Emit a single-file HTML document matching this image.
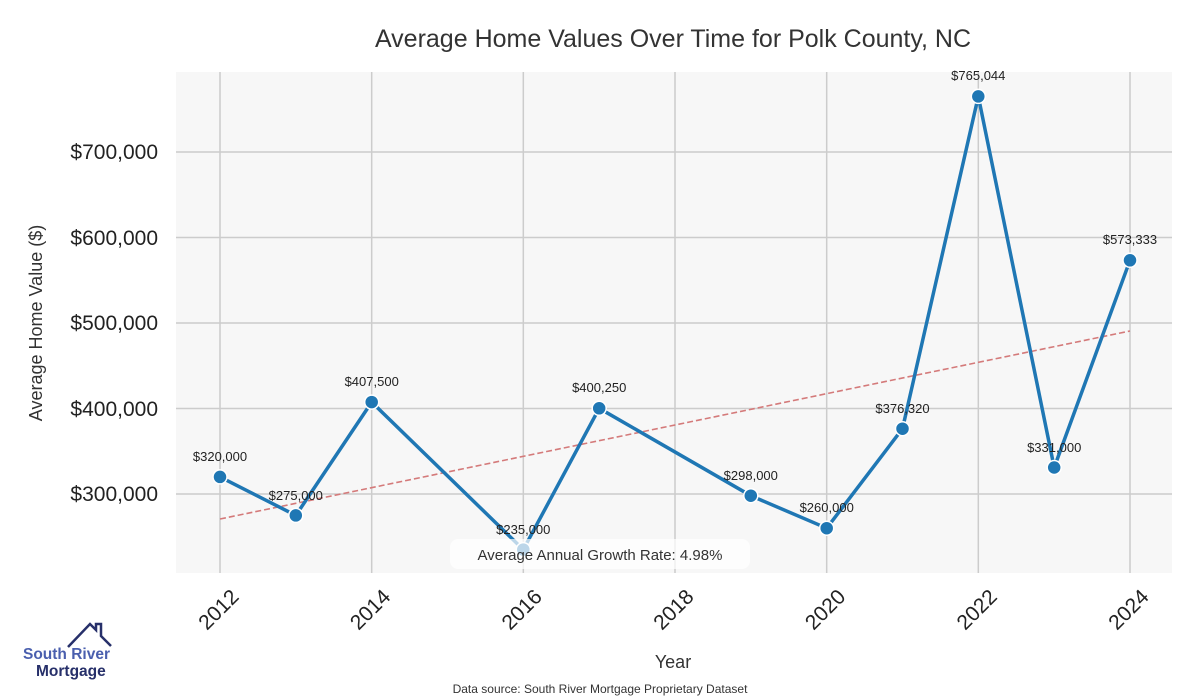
<!DOCTYPE html>
<html><head><meta charset="utf-8"><style>body{margin:0;background:#fff}svg{display:block}</style></head><body>
<svg width="1200" height="700" xmlns="http://www.w3.org/2000/svg" font-family="Liberation Sans, sans-serif">
<rect x="176" y="72" width="996" height="501" fill="#f7f7f7"/>
<g stroke="#cccccc" stroke-width="1.5">
<line x1="176" x2="1172" y1="494" y2="494"/><line x1="176" x2="1172" y1="408.5" y2="408.5"/><line x1="176" x2="1172" y1="323" y2="323"/><line x1="176" x2="1172" y1="237.5" y2="237.5"/><line x1="176" x2="1172" y1="152" y2="152"/>
<line y1="72" y2="573" x1="220" x2="220"/><line y1="72" y2="573" x1="371.7" x2="371.7"/><line y1="72" y2="573" x1="523.3" x2="523.3"/><line y1="72" y2="573" x1="675" x2="675"/><line y1="72" y2="573" x1="826.7" x2="826.7"/><line y1="72" y2="573" x1="978.3" x2="978.3"/><line y1="72" y2="573" x1="1130" x2="1130"/>
</g>
<line x1="220" y1="519" x2="1130" y2="331" stroke="#d47a7a" stroke-width="1.6" stroke-dasharray="6,3"/>
<polyline fill="none" stroke="#1f77b4" stroke-width="3.5" stroke-linejoin="round" points="220,476.9 295.8,515.4 371.7,402.1 523.3,549.6 599.2,408.3 750.8,495.7 826.7,528.2 902.5,428.7 978.3,96.4 1054.2,467.5 1130,260.3"/>
<g fill="#1f77b4" stroke="#fff" stroke-width="1.5">
<circle cx="220" cy="476.9" r="7"/><circle cx="295.8" cy="515.4" r="7"/><circle cx="371.7" cy="402.1" r="7"/><circle cx="523.3" cy="549.6" r="7"/><circle cx="599.2" cy="408.3" r="7"/><circle cx="750.8" cy="495.7" r="7"/><circle cx="826.7" cy="528.2" r="7"/><circle cx="902.5" cy="428.7" r="7"/><circle cx="978.3" cy="96.4" r="7"/><circle cx="1054.2" cy="467.5" r="7"/><circle cx="1130" cy="260.3" r="7"/>
</g>
<g font-size="13" fill="#222" text-anchor="middle">
<text x="220" y="461">$320,000</text><text x="295.8" y="500">$275,000</text><text x="371.7" y="386">$407,500</text><text x="523.3" y="534">$235,000</text><text x="599.2" y="392">$400,250</text><text x="750.8" y="480">$298,000</text><text x="826.7" y="512">$260,000</text><text x="902.5" y="413">$376,320</text><text x="978.3" y="80">$765,044</text><text x="1054.2" y="452">$331,000</text><text x="1130" y="244">$573,333</text>
</g>
<rect x="450" y="539" width="300" height="30" rx="8" fill="#fff" opacity="0.7"/>
<text x="600" y="560" font-size="15" fill="#333" text-anchor="middle">Average Annual Growth Rate: 4.98%</text>
<text x="673" y="47" font-size="25" fill="#333" text-anchor="middle">Average Home Values Over Time for Polk County, NC</text>
<g font-size="21" fill="#222" text-anchor="end">
<text x="158" y="501">$300,000</text><text x="158" y="416">$400,000</text><text x="158" y="330">$500,000</text><text x="158" y="245">$600,000</text><text x="158" y="159">$700,000</text>
</g>
<text transform="translate(42,323) rotate(-90)" font-size="18" fill="#333" text-anchor="middle">Average Home Value ($)</text>
<g font-size="21" fill="#222" text-anchor="end">
<text transform="translate(240,598) rotate(-45)">2012</text><text transform="translate(391.7,598) rotate(-45)">2014</text><text transform="translate(543.3,598) rotate(-45)">2016</text><text transform="translate(695,598) rotate(-45)">2018</text><text transform="translate(846.7,598) rotate(-45)">2020</text><text transform="translate(998.3,598) rotate(-45)">2022</text><text transform="translate(1150,598) rotate(-45)">2024</text>
</g>
<text x="673" y="668" font-size="18" fill="#333" text-anchor="middle">Year</text>
<text x="600" y="693" font-size="12" fill="#333" text-anchor="middle">Data source: South River Mortgage Proprietary Dataset</text>
<polyline points="68,647 90,624 96,630 96,624 101,624 101,636 111,646" fill="none" stroke="#27306a" stroke-width="2.5"/>
<text x="23" y="659" font-size="15.5" font-weight="bold" fill="#4a5fae">South River</text>
<text x="36" y="676" font-size="15.5" font-weight="bold" fill="#27306a">Mortgage</text>
</svg>
</body></html>
